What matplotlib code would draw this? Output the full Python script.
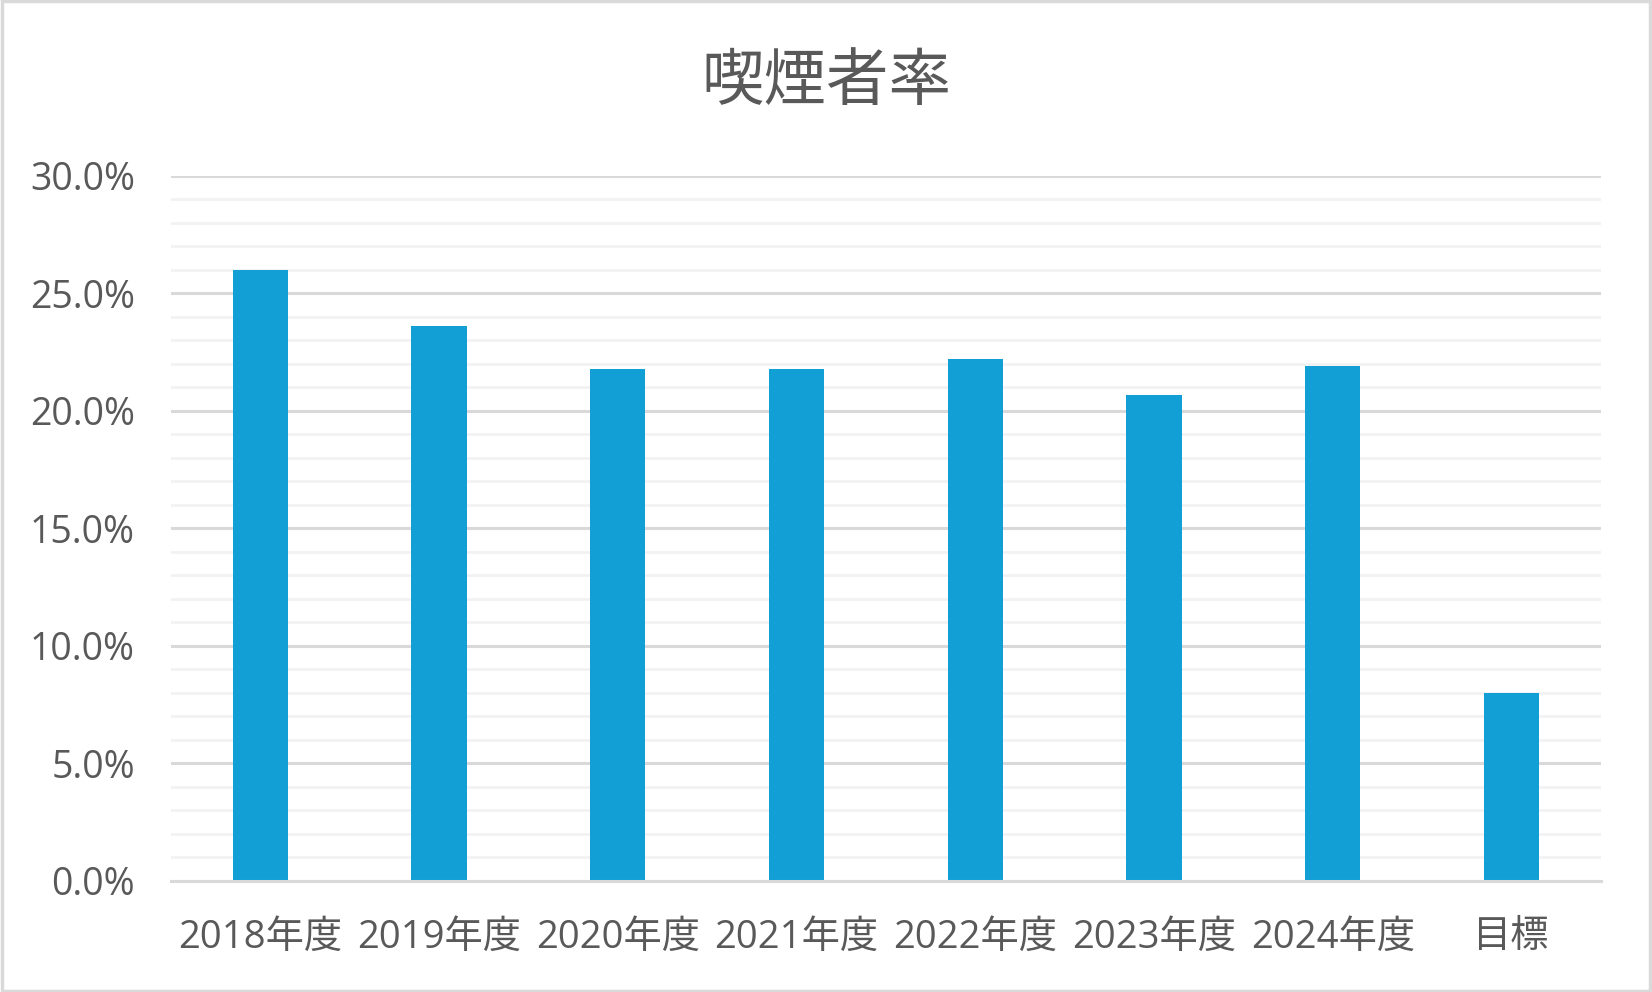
import matplotlib
matplotlib.use("Agg")
import matplotlib.pyplot as plt
from matplotlib.ticker import MultipleLocator, FuncFormatter
from matplotlib.patches import Rectangle

plt.rcParams['font.family'] = ['Open Sans', 'Noto Sans CJK JP', 'DejaVu Sans']

# data
categories = ['2018年度', '2019年度', '2020年度', '2021年度', '2022年度',
              '2023年度', '2024年度', '目標']
smoking_rate = [26.0, 23.6, 21.8, 21.8, 22.2, 20.7, 21.9, 8.0]  # percent
title = '喫煙者率'

text_color = '#595959'
bar_color = '#119fd6'

fig = plt.figure(figsize=(16.52, 9.92), dpi=100)
ax = fig.add_axes([0.1035, 0.1119, 0.8655, 0.7107])

x = range(len(categories))
ax.bar(x, smoking_rate, width=0.31, color=bar_color, zorder=3)

ax.set_xlim(-0.5, len(categories) - 0.5)
ax.set_ylim(0, 30)

# major gridlines every 5%, minor every 1%
ax.yaxis.set_major_locator(MultipleLocator(5))
ax.yaxis.set_minor_locator(MultipleLocator(1))
ax.yaxis.set_major_formatter(FuncFormatter(lambda v, p: f'{v:.1f}%'))
ax.grid(axis='y', which='major', color='#d9d9d9', linewidth=2.2, zorder=1)
ax.grid(axis='y', which='minor', color='#f2f2f2', linewidth=2.0, zorder=0)

ax.set_xticks(list(x))
ax.set_xticklabels(categories)
ax.tick_params(axis='both', which='both', length=0, colors=text_color)
ax.tick_params(axis='y', pad=26, labelsize=27)
ax.tick_params(axis='x', pad=27, labelsize=27.5)

for side in ['top', 'right', 'left']:
    ax.spines[side].set_visible(False)
ax.spines['bottom'].set_color('#d9d9d9')
ax.spines['bottom'].set_linewidth(2.2)
ax.spines['bottom'].set_zorder(4)

fig.text(0.5, 0.917, title, ha='center', va='center', fontsize=45,
         color=text_color, family=['Noto Sans CJK JP', 'DejaVu Sans'])

# light grey frame round the chart area
fig.patches.append(Rectangle((0.001, 0.001), 0.998, 0.998,
                             transform=fig.transFigure, fill=False,
                             edgecolor='#d9d9d9', linewidth=2.5))

fig.savefig('out.png', dpi=100)
